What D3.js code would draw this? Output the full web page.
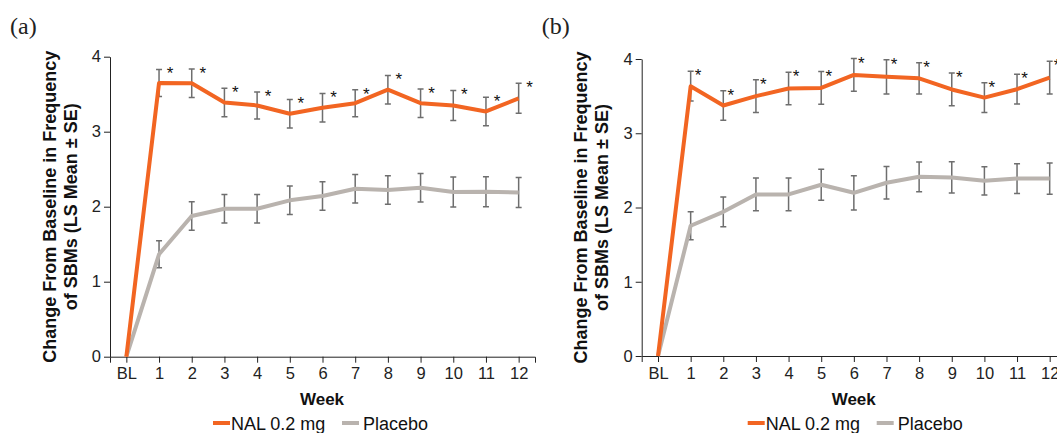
<!DOCTYPE html>
<html>
<head>
<meta charset="utf-8">
<script src="https://cdn.jsdelivr.net/npm/d3@7"></script>
<style>
  body { margin: 0; background: #fff; }
  svg { display: block; font-family: Arial, "Liberation Sans", sans-serif; }
</style>
</head>
<body>
<svg id="chart" width="1057" height="433"></svg>
<script>
// week categories
var weeks = ["BL", "1", "2", "3", "4", "5", "6", "7", "8", "9", "10", "11", "12"];
var yTicks = [0, 1, 2, 3, 4];

// panel (a)
var nalA = [0, 3.65, 3.645, 3.39, 3.35, 3.24, 3.32, 3.38, 3.56, 3.38, 3.35, 3.27, 3.445];
var nalASE = [0, 0.18, 0.19, 0.19, 0.18, 0.19, 0.19, 0.18, 0.19, 0.19, 0.2, 0.19, 0.2];
var plaA = [0, 1.365, 1.876, 1.973, 1.973, 2.085, 2.143, 2.24, 2.222, 2.253, 2.196, 2.2, 2.19];
var plaASE = [0, 0.18, 0.19, 0.19, 0.19, 0.19, 0.19, 0.19, 0.19, 0.19, 0.2, 0.2, 0.2];

// panel (b)
var nalB = [0, 3.634, 3.374, 3.5, 3.603, 3.61, 3.786, 3.76, 3.74, 3.59, 3.48, 3.593, 3.75];
var nalBSE = [0, 0.2, 0.2, 0.22, 0.22, 0.22, 0.22, 0.23, 0.21, 0.22, 0.2, 0.2, 0.22];
var plaB = [0, 1.754, 1.942, 2.176, 2.176, 2.306, 2.198, 2.333, 2.413, 2.405, 2.36, 2.39, 2.39];
var plaBSE = [0, 0.19, 0.2, 0.22, 0.22, 0.21, 0.23, 0.22, 0.2, 0.21, 0.19, 0.2, 0.21];

// which weeks get a significance star (all post-baseline)
var starred = ["1", "2", "3", "4", "5", "6", "7", "8", "9", "10", "11", "12"];

var seriesNames = ["NAL 0.2 mg", "Placebo"];
var colors = ["#f26522", "#b9b3ae"];

var svg = d3.select("#chart");
var sans = "Arial, 'Liberation Sans', sans-serif";

function drawPanel(opt) {
    var g = svg.append("g");

    var x = d3.scalePoint().domain(weeks).range([opt.x0, opt.x1]).padding(0.5);
    var y = d3.scaleLinear().domain([0, 4]).range([opt.yBot, opt.yTop]);

    // panel letter
    g.append("text")
        .attr("x", opt.x0 - 100)
        .attr("y", 34)
        .style("font-family", "'Liberation Serif', 'Times New Roman', serif")
        .style("font-size", "24px")
        .attr("fill", "#222")
        .text(opt.label);

    // axes
    var yAxis = g.append("g")
        .attr("transform", "translate(" + opt.x0 + ",0)")
        .call(d3.axisLeft(y).tickValues(yTicks).tickSize(6).tickSizeOuter(0).tickFormat(d3.format("d")));
    yAxis.attr("font-family", null).attr("font-size", null);
    yAxis.selectAll("text").style("font-family", sans).style("font-size", "16.5px").attr("fill", "#222").attr("x", -9);

    var xAxis = g.append("g")
        .attr("transform", "translate(0," + opt.yBot + ")")
        .call(d3.axisBottom(x).tickSize(6).tickSizeOuter(6));
    xAxis.attr("font-family", null).attr("font-size", null);
    xAxis.selectAll("text").style("font-family", sans).style("font-size", "16.5px").attr("fill", "#222").attr("y", 11);

    g.selectAll(".domain, .tick line").attr("stroke", "#222").attr("stroke-width", 1);

    // y title
    var yMid = (opt.yTop + opt.yBot) / 2;
    var yTitle = ["Change From Baseline in Frequency", "of SBMs (LS Mean \u00b1 SE)"];
    g.selectAll(".ytitle").data(yTitle).enter().append("text")
        .attr("class", "ytitle")
        .attr("transform", function(d, i) {
            return "translate(" + (opt.x0 - 54.5 + i * 21) + "," + yMid + ") rotate(-90)";
        })
        .attr("text-anchor", "middle")
        .style("font-size", "18px")
        .style("font-weight", "bold")
        .attr("fill", "#111")
        .text(function(d) { return d; });

    // x title
    g.append("text")
        .attr("x", opt.x0 + 212)
        .attr("y", 405)
        .attr("text-anchor", "middle")
        .style("font-size", "17px")
        .style("font-weight", "bold")
        .attr("fill", "#111")
        .text("Week");

    var series = [
        { name: seriesNames[0], vals: opt.nal, se: opt.nalSE, color: colors[0] },
        { name: seriesNames[1], vals: opt.pla, se: opt.plaSE, color: colors[1] }
    ];

    // error bars
    series.forEach(function(s) {
        var pts = weeks.map(function(w, i) { return { w: w, v: s.vals[i], se: s.se[i] }; })
            .filter(function(p) { return p.se > 0; });
        var eb = g.append("g").attr("stroke", "#6e6e6e").attr("stroke-width", 1.5).attr("fill", "none");
        eb.selectAll("path").data(pts).enter().append("path")
            .attr("d", function(p) {
                var cx = x(p.w), t = y(p.v + p.se), b = y(p.v - p.se);
                return "M" + cx + "," + t + "V" + b +
                    "M" + (cx - 3) + "," + t + "H" + (cx + 3) +
                    "M" + (cx - 3) + "," + b + "H" + (cx + 3);
            });
    });

    // lines
    var line = d3.line()
        .x(function(d, i) { return x(weeks[i]); })
        .y(function(d) { return y(d); });
    series.slice().reverse().forEach(function(s) {
        g.append("path")
            .datum(s.vals)
            .attr("d", line)
            .attr("fill", "none")
            .attr("stroke", s.color)
            .attr("stroke-width", 4)
            .attr("stroke-linejoin", "round");
    });

    // significance stars
    g.selectAll(".star").data(starred).enter().append("text")
        .attr("class", "star")
        .attr("x", function(w) { return x(w) + opt.starDx; })
        .attr("y", function(w) {
            var i = weeks.indexOf(w);
            return y(opt.nal[i] + opt.nalSE[i]) + 10;
        })
        .attr("text-anchor", "middle")
        .style("font-size", "17px")
        .attr("fill", "#111")
        .text("*");

    // legend
    var lg = g.append("g").attr("transform", "translate(" + (opt.x0 + opt.legDx) + ",423)");
    var offs = [0, 129];
    series.forEach(function(s, i) {
        lg.append("line")
            .attr("x1", offs[i]).attr("x2", offs[i] + 17)
            .attr("stroke", s.color).attr("stroke-width", 4);
        lg.append("text")
            .attr("x", offs[i] + (i === 0 ? 18 : 21))
            .attr("y", 7)
            .style("font-size", "18px")
            .attr("fill", "#111")
            .text(s.name);
    });
}

drawPanel({ label: "(a)", x0: 110, x1: 535, yTop: 56.7, yBot: 356.7,
    nal: nalA, nalSE: nalASE, pla: plaA, plaSE: plaASE, starDx: 11, legDx: 103 });
drawPanel({ label: "(b)", x0: 641.7, x1: 1066, yTop: 59, yBot: 356,
    nal: nalB, nalSE: nalBSE, pla: plaB, plaSE: plaBSE, starDx: 7.5, legDx: 106 });
</script>
</body>
</html>
